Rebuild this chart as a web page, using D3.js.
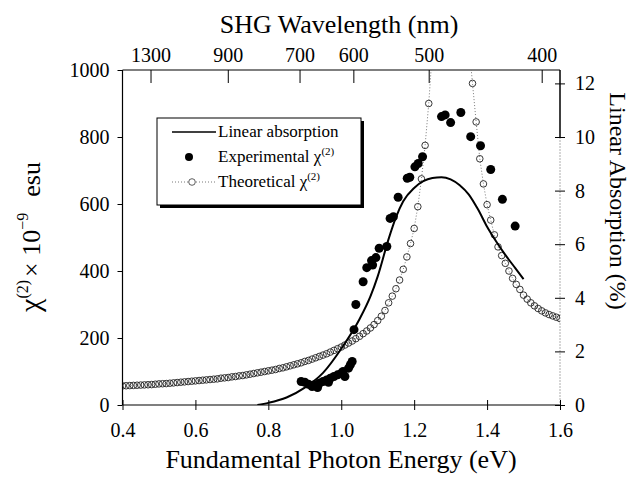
<!DOCTYPE html>
<html><head><meta charset="utf-8">
<script src="https://cdn.jsdelivr.net/npm/d3@7"></script>
<style>body{margin:0;background:#fff}svg{display:block}text{font-family:"Liberation Serif","Times New Roman",serif;fill:#000}</style>
</head><body><svg id="c" width="634" height="477"></svg>
<script>
// ---- data ----
const xTicks = [0.4, 0.6, 0.8, 1.0, 1.2, 1.4, 1.6];
const yLeftTicks = [0, 200, 400, 600, 800, 1000];
const yRightTicks = [0, 2, 4, 6, 8, 10, 12];
const shgTicks = [1300, 900, 700, 600, 500, 400];

const absE = [0.77,0.80,0.85,0.90,0.95,1.00,1.05,1.08,1.10,1.13,1.15,1.17,1.20,1.225,1.25,1.275,1.30,1.325,1.35,1.375,1.40,1.425,1.45,1.475,1.50];
const absV = [0.0,0.08,0.28,0.65,1.2,2.1,3.2,4.05,4.8,6.2,7.0,7.6,8.1,8.35,8.47,8.5,8.42,8.2,7.85,7.3,6.65,6.1,5.6,5.15,4.7];

const expE = [0.89,0.90,0.91,0.92,0.925,0.935,0.94,0.95,0.96,0.965,0.97,0.98,0.99,1.00,1.005,1.01,1.02,1.025,1.03,1.035,1.04,1.06,1.07,1.083,1.086,1.095,1.104,1.125,1.134,1.143,1.156,1.181,1.188,1.202,1.211,1.223,1.275,1.285,1.30,1.328,1.355,1.382,1.41,1.442,1.477];
const expV = [70,68,62,55,60,52,65,70,75,68,80,85,90,95,100,85,110,120,130,225,300,368,410,431,418,440,468,473,557,562,620,677,680,711,721,741,861,866,843,873,801,774,703,614,534];

const thE = [0.40,0.41,0.42,0.43,0.44,0.45,0.46,0.47,0.48,0.49,0.50,0.51,0.52,0.53,0.54,0.55,0.56,0.57,0.58,0.59,0.60,0.61,0.62,0.63,0.64,0.65,0.66,0.67,0.68,0.69,0.70,0.71,0.72,0.73,0.74,0.75,0.76,0.77,0.78,0.79,0.80,0.81,0.82,0.83,0.84,0.85,0.86,0.87,0.88,0.89,0.90,0.91,0.92,0.93,0.94,0.95,0.96,0.97,0.98,0.99,1.00,1.01,1.02,1.03,1.04,1.05,1.06,1.07,1.08,1.09,1.10,1.11,1.12,1.13,1.14,1.15,1.16,1.17,1.18,1.19,1.20,1.21,1.22,1.23,1.24,1.25,1.26,1.27,1.28,1.29,1.30,1.31,1.32,1.33,1.34,1.35,1.36,1.37,1.38,1.39,1.40,1.41,1.42,1.43,1.44,1.45,1.46,1.47,1.48,1.49,1.50,1.51,1.52,1.53,1.54,1.55,1.56,1.57,1.58,1.59,1.60];
const thV = [57,57.5,58,58.5,59,59.5,60,60.5,61,62,63,63.5,64,65,66,67,68,69,70,71,72,73,74,75,76,77,78,80,81,82,84,85,87,88,90,92,94,96,98,100,102,104,106,109,111,114,117,120,123,126,130,133,137,141,145,149,153,158,163,168,173,179,185,191,198,205,213,221,230,240,252,265,282,305,325,347,373,405,442,482,527,592,675,775,900,1060,1200,1330,1430,1490,1510,1490,1430,1330,1200,1080,960,845,735,660,598,552,508,472,446,423,400,378,360,345,328,316,305,296,288,281,275,270,266,262,258];

// ---- layout ----
const svg = d3.select("#c");
const L = 122.5, R = 560, T = 70, B = 405;
const x = d3.scaleLinear().domain([0.4, 1.6]).range([L, R]);
const yL = d3.scaleLinear().domain([0, 1000]).range([B, T]);
const yR = d3.scaleLinear().domain([0, 12.5]).range([B, T]);
const FS = 20;

svg.append("defs").append("clipPath").attr("id","clip")
  .append("rect").attr("x",L).attr("y",T).attr("width",R-L).attr("height",B-T);

// frame
svg.append("line").attr("x1",L).attr("x2",R).attr("y1",T).attr("y2",T).attr("stroke","#000").attr("stroke-width",1.2);
svg.append("line").attr("x1",L).attr("x2",R).attr("y1",B).attr("y2",B).attr("stroke","#000").attr("stroke-width",1.2);
svg.append("line").attr("x1",L).attr("x2",L).attr("y1",T).attr("y2",B).attr("stroke","#000").attr("stroke-width",1.2);
svg.append("line").attr("x1",R).attr("x2",R).attr("y1",T).attr("y2",yR(10)).attr("stroke","#000").attr("stroke-width",1.5);
svg.append("line").attr("x1",R).attr("x2",R).attr("y1",yR(10)).attr("y2",B).attr("stroke","#999").attr("stroke-width",0.8).attr("stroke-dasharray","2,1");

function styleAxis(g){
  g.select(".domain").remove();
  g.selectAll(".tick line").attr("stroke","#000").attr("stroke-width",1);
  g.selectAll(".tick text").style("font-size",FS+"px").style("font-family",'"Liberation Serif",serif');
}
const gB = svg.append("g").attr("transform",`translate(0,${B})`)
  .call(d3.axisBottom(x).tickValues(xTicks).tickFormat(d3.format(".1f")).tickSize(5).tickPadding(13));
styleAxis(gB); gB.selectAll(".tick line").attr("y1",-5).attr("y2",5);
// top axis (SHG wavelength): fundamental E = 1239.84/(2*lambda)
const gT = svg.append("g").attr("transform",`translate(0,${T})`)
  .call(d3.axisTop(x).tickValues(shgTicks.map(l => 1239.84/(2*l))).tickFormat((d,i)=>shgTicks[i]).tickSize(0).tickPadding(8));
styleAxis(gT); gT.selectAll(".tick line").attr("y1",0).attr("y2",13);
const gL = svg.append("g").attr("transform",`translate(${L},0)`)
  .call(d3.axisLeft(yL).tickValues(yLeftTicks).tickFormat(d3.format("d")).tickSize(5).tickPadding(8));
styleAxis(gL);
const gR = svg.append("g").attr("transform",`translate(${R},0)`)
  .call(d3.axisRight(yR).tickValues(yRightTicks).tickSize(5).tickPadding(10));
styleAxis(gR); gR.selectAll(".tick line").attr("x1",-5).attr("x2",5);

const plot = svg.append("g").attr("clip-path","url(#clip)");

const thData = thE.map((e,i)=>[e,thV[i]]);
plot.append("path").datum(thData)
  .attr("d", d3.line().x(d=>x(d[0])).y(d=>yL(d[1])))
  .attr("fill","none").attr("stroke","#555").attr("stroke-width",0.8).attr("stroke-dasharray","1,2");
plot.selectAll("circle.th").data(thData).join("circle").attr("class","th")
  .attr("cx",d=>x(d[0])).attr("cy",d=>yL(d[1])).attr("r",3.3)
  .attr("fill","none").attr("stroke","#222").attr("stroke-width",0.9);

const absData = absE.map((e,i)=>[e,absV[i]]);
plot.append("path").datum(absData)
  .attr("d", d3.line().curve(d3.curveMonotoneX).x(d=>x(d[0])).y(d=>yR(d[1])))
  .attr("fill","none").attr("stroke","#000").attr("stroke-width",2);

const expData = expE.map((e,i)=>[e,expV[i]]);
plot.selectAll("circle.ex").data(expData).join("circle").attr("class","ex")
  .attr("cx",d=>x(d[0])).attr("cy",d=>yL(d[1])).attr("r",4.5).attr("fill","#000");

// legend
const lg = svg.append("g");
const lx = 157, ly = 118, lw = 204, lh = 87;
lg.append("rect").attr("x",lx+3).attr("y",ly+3).attr("width",lw).attr("height",lh).attr("fill","#000");
lg.append("rect").attr("x",lx).attr("y",ly).attr("width",lw).attr("height",lh).attr("fill","#fff").attr("stroke","#000").attr("stroke-width",1);
const rows = [ly+14, ly+39, ly+64];
lg.append("line").attr("x1",172).attr("x2",216).attr("y1",rows[0]).attr("y2",rows[0]).attr("stroke","#000").attr("stroke-width",1.5);
lg.append("circle").attr("cx",189).attr("cy",rows[1]).attr("r",4).attr("fill","#000");
lg.append("line").attr("x1",172).attr("x2",216).attr("y1",rows[2]).attr("y2",rows[2]).attr("stroke","#555").attr("stroke-width",0.8).attr("stroke-dasharray","1,2");
lg.append("circle").attr("cx",192).attr("cy",rows[2]).attr("r",3.3).attr("fill","#fff").attr("stroke","#333").attr("stroke-width",0.8);
const lt = (y)=>lg.append("text").attr("x",218).attr("y",y+5).style("font-size","17px");
lt(rows[0]).text("Linear absorption");
let t2 = lt(rows[1]); t2.append("tspan").text("Experimental χ"); t2.append("tspan").attr("dy",-7).style("font-size","11px").text("(2)");
let t3 = lt(rows[2]); t3.append("tspan").text("Theoretical χ"); t3.append("tspan").attr("dy",-7).style("font-size","11px").text("(2)");

// axis titles
svg.append("text").attr("x",339).attr("y",33).attr("text-anchor","middle").style("font-size","26px").text("SHG Wavelength (nm)");
svg.append("text").attr("x",341).attr("y",468).attr("text-anchor","middle").style("font-size","26px").text("Fundamental Photon Energy (eV)");
const yl = svg.append("text").attr("transform","translate(40,237) rotate(-90)").attr("text-anchor","middle").style("font-size","26px");
yl.append("tspan").style("font-size","30px").text("χ");
yl.append("tspan").attr("dy",-12).style("font-size","16px").text("(2)");
yl.append("tspan").attr("dy",12).attr("dx",3).text("× 10");
yl.append("tspan").attr("dy",-12).style("font-size","16px").text("−9");
yl.append("tspan").attr("dy",12).attr("dx",16).text("esu");
svg.append("text").attr("transform","translate(610,201) rotate(90)").attr("text-anchor","middle").style("font-size","24px").text("Linear Absorption (%)");
</script></body></html>
